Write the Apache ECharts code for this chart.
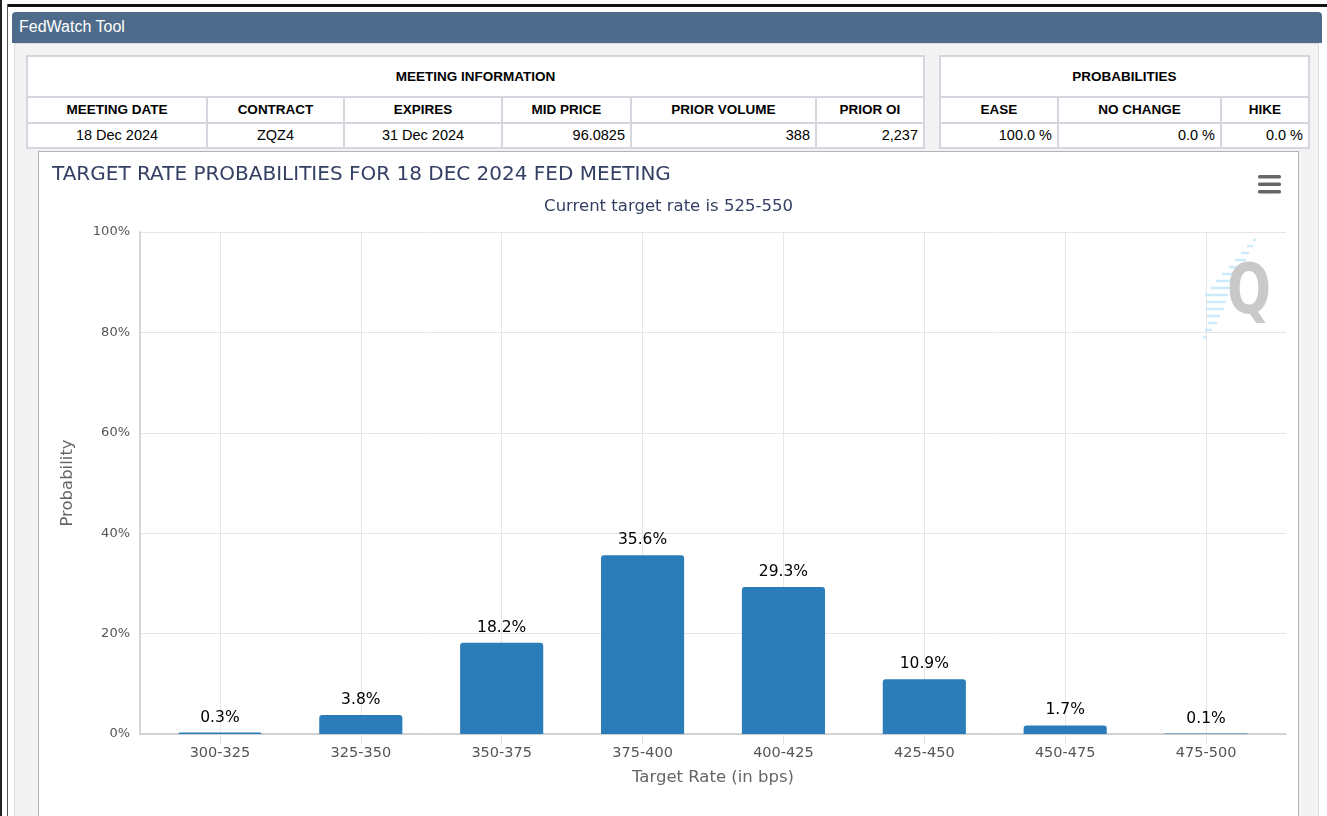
<!DOCTYPE html>
<html>
<head>
<meta charset="utf-8">
<title>FedWatch Tool</title>
<script src="https://cdn.jsdelivr.net/npm/echarts@6/dist/echarts.min.js"></script>
<style>
  html, body { margin: 0; padding: 0; background: #fff; overflow: hidden; }
  body { width: 1327px; height: 816px; position: relative; font-family: "Liberation Sans", Arial, sans-serif; }
  #frame { position: absolute; left: 0; top: 0; width: 1327px; height: 816px;
           border-left: 2px solid #222; box-sizing: border-box; }
  #topline { position: absolute; left: 8px; top: 4px; right: 0; height: 3px; background: #111; }
  #innerleft { position: absolute; left: 7px; top: 4px; bottom: 0; width: 1px; background: #555; }
  #header { position: absolute; left: 12px; top: 12px; width: 1310px; height: 31px;
            background: #4f6b8b; color: #fff; font-size: 16px; line-height: 29px;
            padding-left: 7px; box-sizing: border-box; border-radius: 4px 4px 0 0; }
  #panel { position: absolute; left: 14px; top: 43px; width: 1305px; height: 800px;
           background: #f3f3f3; border: 1px solid #dcdcdc; box-sizing: border-box; }
  table.info { position: absolute; border-collapse: collapse; background: #fff;
               font-size: 14.5px; color: #000; }
  table.info td { border: 2px solid #d4d8de; padding: 0 5px; height: 23.5px; white-space: nowrap; }
  table.info td.h { font-weight: bold; font-size: 13.5px; text-align: center; }
  table.info td.big { height: 39px; }
  table.info td.c { text-align: center; }
  table.info td.r { text-align: right; }
  #chartbox { position: absolute; left: 38px; top: 151px; width: 1261px; height: 700px;
              background: #fff; border: 1px solid #b4b4b4; box-sizing: border-box; }
  #chart { position: absolute; left: 0; top: 0; width: 1259px; height: 698px; }
</style>
</head>
<body>
<div id="frame"></div>
<div id="topline"></div>
<div id="innerleft"></div>
<div id="header">FedWatch Tool</div>
<div id="panel"></div>

<table class="info" id="meeting" style="left:26px; top:55px; width:899px;">
  <tr><td class="h big" colspan="6">MEETING INFORMATION</td></tr>
  <tr>
    <td class="h" style="width:168px">MEETING DATE</td>
    <td class="h" style="width:125px">CONTRACT</td>
    <td class="h" style="width:146px">EXPIRES</td>
    <td class="h" style="width:117px">MID PRICE</td>
    <td class="h" style="width:173px">PRIOR VOLUME</td>
    <td class="h">PRIOR OI</td>
  </tr>
  <tr>
    <td class="c">18 Dec 2024</td>
    <td class="c">ZQZ4</td>
    <td class="c">31 Dec 2024</td>
    <td class="r">96.0825</td>
    <td class="r">388</td>
    <td class="r">2,237</td>
  </tr>
</table>

<table class="info" id="probs" style="left:939px; top:55px; width:371px;">
  <tr><td class="h big" colspan="3">PROBABILITIES</td></tr>
  <tr>
    <td class="h" style="width:106px">EASE</td>
    <td class="h" style="width:151px">NO CHANGE</td>
    <td class="h">HIKE</td>
  </tr>
  <tr>
    <td class="r">100.0 %</td>
    <td class="r">0.0 %</td>
    <td class="r">0.0 %</td>
  </tr>
</table>

<div id="chartbox"><div id="chart"></div></div>

<script>
  //////////Datos del grafico
  var chartTitle = 'TARGET RATE PROBABILITIES FOR 18 DEC 2024 FED MEETING';
  var chartSubtitle = 'Current target rate is 525-550';
  var rateRanges = ['300-325', '325-350', '350-375', '375-400', '400-425', '425-450', '450-475', '475-500'];
  var probabilities = [0.3, 3.8, 18.2, 35.6, 29.3, 10.9, 1.7, 0.1];
  var yTicks = [0, 20, 40, 60, 80, 100];
  //////////

  var chartFont = '"DejaVu Sans", "Noto Sans", sans-serif';
  var chart = echarts.init(document.getElementById('chart'));

  // Area del plot (relativa al div del chart)
  var plotLeft = 101, plotTop = 80, plotWidth = 1146, plotHeight = 502;
  var bandPad = 9.5;   // espacio extra a cada lado de las categorias

  // Marca de agua "Q" (decoracion): guiones celestes en diagonal, coords de pagina
  var dashRows = [[240, 1253, 1256], [246, 1247, 1253], [253, 1241, 1249], [260, 1235, 1246],
                  [267, 1229, 1243], [274, 1222, 1240], [281, 1216, 1236], [288, 1211, 1232],
                  [295, 1205, 1228], [302, 1207, 1226], [309, 1206, 1224], [316, 1207, 1220],
                  [323, 1208, 1217], [330, 1205, 1212], [337, 1203, 1206]];
  var wmDashes = [];
  for (var i = 0; i < dashRows.length; i++) {
    wmDashes.push({
      type: 'line', silent: true, z: 1,
      shape: { x1: dashRows[i][1] - 39, y1: dashRows[i][0] - 152, x2: dashRows[i][2] - 39, y2: dashRows[i][0] - 152 },
      style: { stroke: '#cdeafa', lineWidth: 2.5 }
    });
  }

  var menuLines = [];
  for (var j = 0; j < 3; j++) {
    menuLines.push({
      type: 'rect', silent: true,
      shape: { x: 1219, y: 23 + j * 7.5, width: 23, height: 3.5, r: 1.5 },
      style: { fill: '#666' }
    });
  }

  var option = {
    animation: false,
    textStyle: { fontFamily: chartFont },
    title: [
      {
        text: chartTitle, left: 8, top: 8,
        textStyle: { fontFamily: chartFont, fontSize: 20, fontWeight: 'normal', color: '#333f63' }
      },
      {
        text: chartSubtitle, left: 'center', top: 41,
        textStyle: { fontFamily: chartFont, fontSize: 16.5, fontWeight: 'normal', color: '#333f63' }
      }
    ],
    grid: [
      { left: plotLeft, top: plotTop, width: plotWidth, height: plotHeight },
      { left: plotLeft + bandPad, top: plotTop, width: plotWidth - 2 * bandPad, height: plotHeight }
    ],
    xAxis: [
      {
        gridIndex: 0, type: 'category', data: rateRanges,
        axisLine: { show: true, lineStyle: { color: '#c8c8c8', width: 1.5 } },
        axisTick: { show: false }, axisLabel: { show: false }, splitLine: { show: false }
      },
      {
        gridIndex: 1, type: 'category', data: rateRanges,
        name: 'Target Rate (in bps)', nameLocation: 'middle', nameGap: 35,
        nameTextStyle: { fontFamily: chartFont, fontSize: 16.5, color: '#666' },
        axisLine: { show: false },
        axisTick: { show: true, alignWithLabel: true, length: 10, lineStyle: { color: '#e2e2e2' } },
        splitLine: { show: true, alignWithLabel: true, lineStyle: { color: '#e6e6e6', width: 1 } },
        axisLabel: { fontFamily: chartFont, fontSize: 14.5, color: '#555', margin: 12 }
      }
    ],
    yAxis: [
      {
        gridIndex: 0, type: 'value', min: yTicks[0], max: yTicks[yTicks.length - 1], interval: 20,
        name: 'Probability', nameLocation: 'middle', nameGap: 64,
        nameTextStyle: { fontFamily: chartFont, fontSize: 16.5, color: '#666' },
        axisLine: { show: true, lineStyle: { color: '#c8c8c8', width: 1.5 } },
        axisTick: { show: false },
        axisLabel: { formatter: '{value}%', fontFamily: chartFont, fontSize: 13, color: '#555', margin: 10 },
        splitLine: { show: true, lineStyle: { color: '#e6e6e6', width: 1 } }
      },
      {
        gridIndex: 1, type: 'value', min: yTicks[0], max: yTicks[yTicks.length - 1],
        show: false, splitLine: { show: false }
      }
    ],
    series: [
      {
        type: 'bar', xAxisIndex: 1, yAxisIndex: 1,
        data: probabilities, barWidth: '59%',
        itemStyle: { color: '#2a7db8', borderRadius: [3, 3, 0, 0] },
        label: {
          show: true, position: 'top', distance: 7,
          formatter: function (p) { return p.value.toFixed(1) + '%'; },
          fontFamily: chartFont, fontSize: 15.5, color: '#000'
        }
      }
    ],
    graphic: wmDashes.concat(menuLines).concat([
      {
        type: 'text', silent: true, z: 2, x: 1188, y: 108, scaleX: 0.74,
        style: { text: 'Q', font: 'bold 70px "DejaVu Sans", sans-serif', fill: '#c9c9c9' }
      }
    ])
  };

  chart.setOption(option);
</script>
</body>
</html>
